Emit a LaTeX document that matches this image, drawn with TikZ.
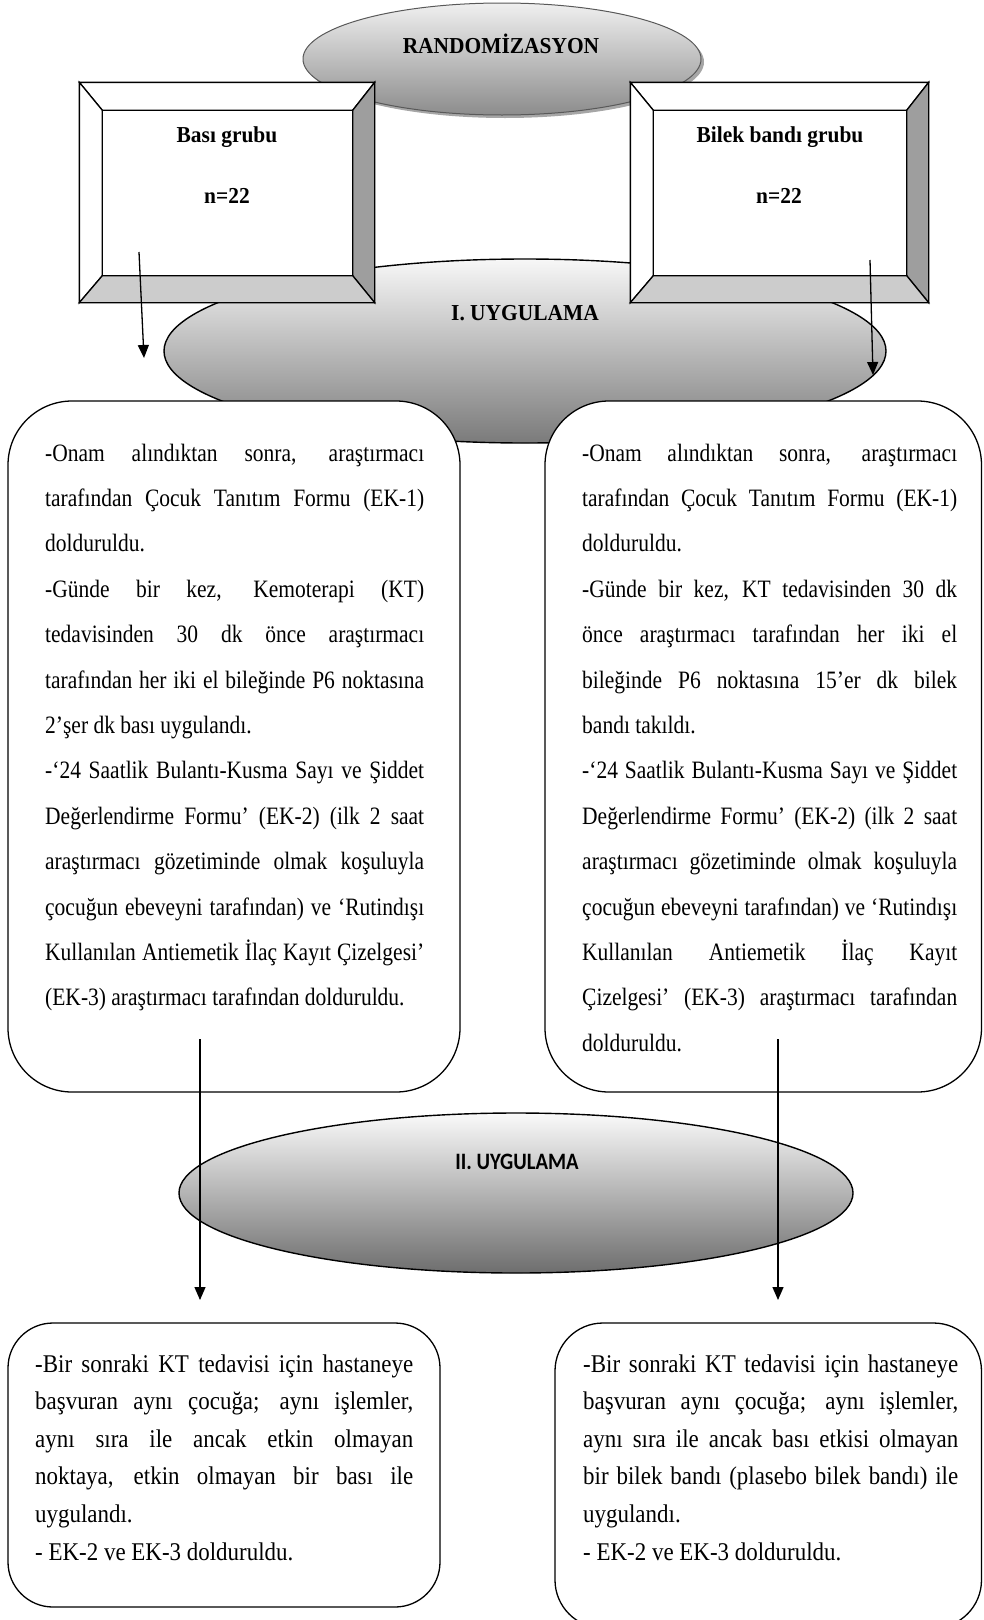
\documentclass[tikz,border=0pt]{standalone}
\usepackage{fontspec}
\setmainfont{Liberation Serif}
\newfontfamily\bodyA{Liberation Serif}[FakeStretch=0.86]
\newfontfamily\bodyB{Liberation Serif}[FakeStretch=0.9]
\newfontfamily\headf{Liberation Serif}[FakeStretch=0.94]
\newfontfamily\calib{Carlito}[FakeStretch=0.88]
\usetikzlibrary{arrows.meta,shapes.geometric,calc}
\hbadness=10000 \hfuzz=30pt
\definecolor{bevR}{HTML}{9E9E9E}
\definecolor{bevB}{HTML}{CCCCCC}
\newcommand\jline[1]{\hbox to\hsize{#1}}
\newcommand\lline[1]{\hbox{#1}}
\newcommand\tfont{\bodyA\fontsize{25pt}{45.4pt}\selectfont}
\newcommand\bfont{\bodyB\fontsize{25.5pt}{37.6pt}\selectfont}
\newcommand\bevel[1]{%
  \coordinate (#1-a) at ($(#1.north west)+(23,28)$);
  \coordinate (#1-b) at ($(#1.north east)+(-22,28)$);
  \coordinate (#1-c) at ($(#1.south east)+(-22,-27)$);
  \coordinate (#1-d) at ($(#1.south west)+(23,-27)$);
  \filldraw[face, fill=white] (#1.north west) -- (#1.north east) -- (#1-b) -- (#1-a) -- cycle;
  \filldraw[face, fill=white] (#1.north west) -- (#1-a) -- (#1-d) -- (#1.south west) -- cycle;
  \filldraw[face, fill=bevR] (#1.north east) -- (#1.south east) -- (#1-c) -- (#1-b) -- cycle;
  \filldraw[face, fill=bevB] (#1.south west) -- (#1-d) -- (#1-c) -- (#1.south east) -- cycle;
  \filldraw[face, fill=white] (#1-a) rectangle (#1-c);
}
\begin{document}
\begin{tikzpicture}[x=1pt,y=-1pt,
  face/.style={draw=black, line width=1.3pt, line join=miter},
  ell/.style={ellipse, draw=black, line width=1.4pt, inner sep=0pt},
  bbox/.style={rectangle, draw=black, line width=1.3pt, inner sep=0pt},
  rbox/.style={rectangle, draw=black, line width=1.3pt, fill=white, inner sep=0pt},
  htxt/.style={inner sep=0pt, font=\headf\fontsize{22.8pt}{24pt}\selectfont\bfseries},
  arr/.style={draw=black, line width=1.3pt, -{Triangle[width=11pt,length=13pt]}},
  body/.style={inner sep=0pt, anchor=base west}]
\useasboundingbox (0,0) rectangle (983,1620);

% RANDOMIZASYON ellipse with shadow
\node[ellipse, inner sep=0pt, minimum width=398pt, minimum height=112pt, fill=black!35] (randS) at (505,62) {};
\node[ell, draw=black!65, line width=1pt, minimum width=398pt, minimum height=112pt,
      top color=white!94!black, bottom color=black!45] (rand) at (502,59) {};

% I. UYGULAMA ellipse
\node[ell, minimum width=722pt, minimum height=184pt,
      top color=white!97!black, bottom color=black!52] (u1) at (525,351) {};

% bevel boxes
\node[bbox, minimum width=294pt, minimum height=219pt] (basi) at (227,192.5) {};
\bevel{basi}
\node[bbox, minimum width=297pt, minimum height=219pt] (bilek) at (779.5,192.5) {};
\bevel{bilek}

% second-level boxes
\node[rbox, rounded corners=64pt, minimum width=452pt, minimum height=691pt] (b2l) at (234,746.5) {};
\node[rbox, rounded corners=64pt, minimum width=436.5pt, minimum height=691pt] (b2r) at (763.25,746.5) {};

% II. UYGULAMA ellipse
\node[ell, minimum width=674pt, minimum height=160pt,
      top color=white!98!black, bottom color=black!57] (u2) at (516,1193) {};

% bottom boxes
\node[rbox, rounded corners=45pt, minimum width=432pt, minimum height=284pt] (b3l) at (224,1465) {};
\node[rbox, rounded corners=48pt, minimum width=426.5pt, minimum height=305pt] (b3r) at (768.25,1475.5) {};

% arrows
\coordinate (p1) at (139,252); \coordinate (q1) at (144,358);
\coordinate (p2) at (870,260); \coordinate (q2) at (873,375);
\coordinate (p3) at (200,1039); \coordinate (q3) at (200,1300);
\coordinate (p4) at (778,1039); \coordinate (q4) at (778,1300);
\draw[arr] (p1) -- (q1);
\draw[arr] (p2) -- (q2);
\draw[arr] (p3) -- (q3);
\draw[arr] (p4) -- (q4);

% headings
\node[htxt, anchor=base] (randT) at (501,53) {RANDOMİZASYON};
\node[htxt, anchor=base] (basiT) at (227,142) {Bası grubu};
\node[htxt, anchor=base] (basiN) at (227,203) {n=22};
\node[htxt, anchor=base] (bilekT) at (780,142) {Bilek bandı grubu};
\node[htxt, anchor=base] (bilekN) at (779,203) {n=22};
\node[htxt, anchor=base] (u1T) at (525,320) {I. UYGULAMA};
\node[inner sep=0pt, anchor=base, font=\calib\bfseries\fontsize{23.5pt}{24pt}\selectfont] (u2T) at (517,1169) {II. UYGULAMA};

% body texts
\node[body] (t1) at (45,461) {\tfont\vtop{\hsize=379pt
\jline{-Onam alındıktan sonra, araştırmacı}
\jline{tarafından Çocuk Tanıtım Formu (EK-1)}
\lline{dolduruldu.}
\jline{-Günde bir kez, Kemoterapi (KT)}
\jline{tedavisinden 30 dk önce araştırmacı}
\jline{tarafından her iki el bileğinde P6 noktasına}
\lline{2’şer dk bası uygulandı.}
\jline{-‘24 Saatlik Bulantı-Kusma Sayı ve Şiddet}
\jline{Değerlendirme Formu’ (EK-2) (ilk 2 saat}
\jline{araştırmacı gözetiminde olmak koşuluyla}
\jline{çocuğun ebeveyni tarafından) ve ‘Rutindışı}
\jline{Kullanılan Antiemetik İlaç Kayıt Çizelgesi’}
\lline{(EK-3) araştırmacı tarafından dolduruldu.}}};

\node[body] (t2) at (582,461) {\tfont\vtop{\hsize=375pt
\jline{-Onam alındıktan sonra, araştırmacı}
\jline{tarafından Çocuk Tanıtım Formu (EK-1)}
\lline{dolduruldu.}
\jline{-Günde bir kez, KT tedavisinden 30 dk}
\jline{önce araştırmacı tarafından her iki el}
\jline{bileğinde P6 noktasına 15’er dk bilek}
\lline{bandı takıldı.}
\jline{-‘24 Saatlik Bulantı-Kusma Sayı ve Şiddet}
\jline{Değerlendirme Formu’ (EK-2) (ilk 2 saat}
\jline{araştırmacı gözetiminde olmak koşuluyla}
\jline{çocuğun ebeveyni tarafından) ve ‘Rutindışı}
\jline{Kullanılan Antiemetik İlaç Kayıt}
\jline{Çizelgesi’ (EK-3) araştırmacı tarafından}
\lline{dolduruldu.}}};

\node[body] (t3) at (35,1372) {\bfont\vtop{\hsize=378pt
\jline{-Bir sonraki KT tedavisi için hastaneye}
\jline{başvuran aynı çocuğa; aynı işlemler,}
\jline{aynı sıra ile ancak etkin olmayan}
\jline{noktaya, etkin olmayan bir bası ile}
\lline{uygulandı.}
\lline{- EK-2 ve EK-3 dolduruldu.}}};

\node[body] (t4) at (583,1372) {\bfont\vtop{\hsize=375pt
\jline{-Bir sonraki KT tedavisi için hastaneye}
\jline{başvuran aynı çocuğa; aynı işlemler,}
\jline{aynı sıra ile ancak bası etkisi olmayan}
\jline{bir bilek bandı (plasebo bilek bandı) ile}
\lline{uygulandı.}
\lline{- EK-2 ve EK-3 dolduruldu.}}};
\end{tikzpicture}
\end{document}
